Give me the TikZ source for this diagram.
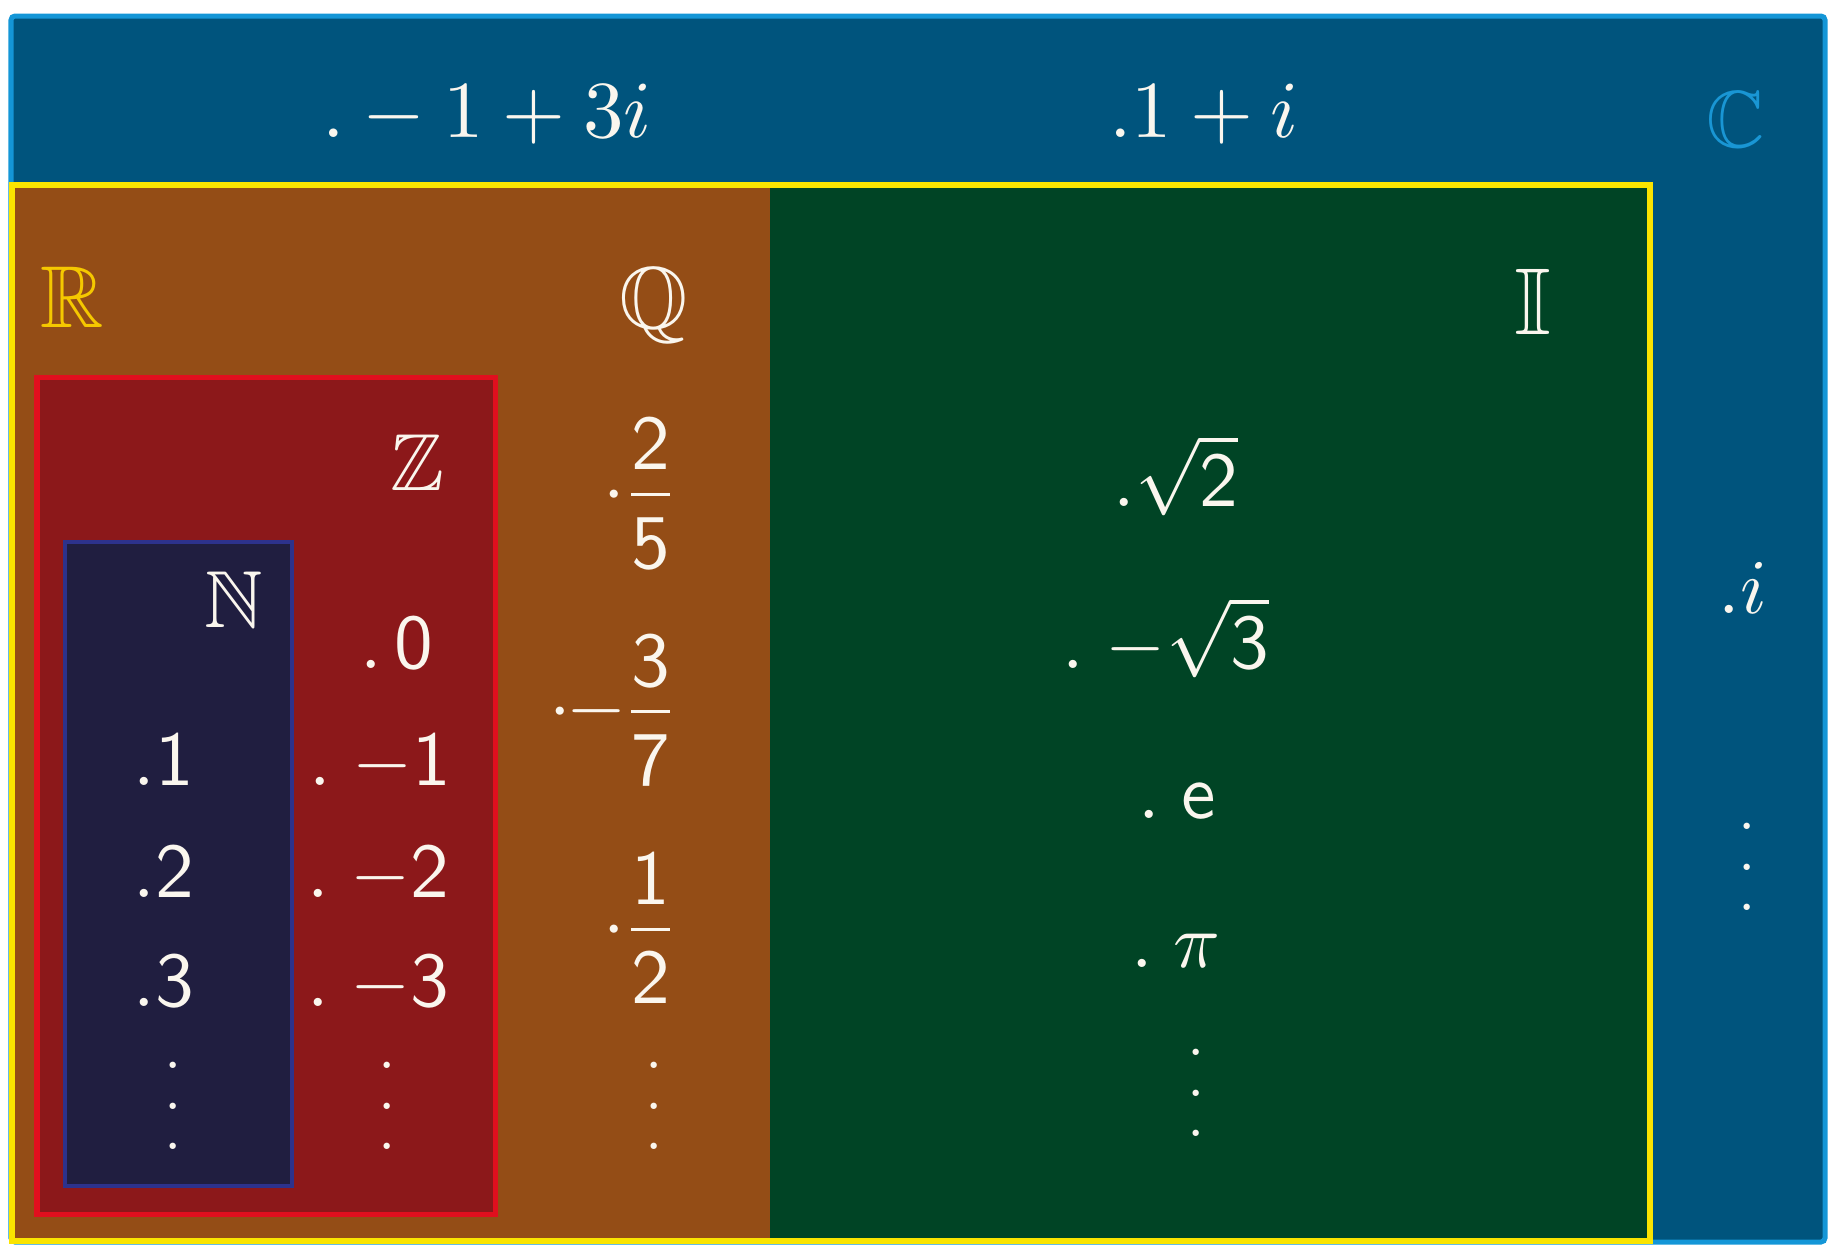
\documentclass[tikz,border=0pt]{standalone}
\usepackage{amsmath}
\usepackage{amssymb}
\DeclareFontFamily{U}{msb}{}
\DeclareFontShape{U}{msb}{m}{n}{<->msbm10}{}
\DeclareFontShape{OML}{cmm}{m}{it}{<->cmmi10}{\skewchar\font'177}
\DeclareFontShape{OMS}{cmsy}{m}{n}{<->cmsy10}{\skewchar\font'60}
\DeclareFontShape{OMX}{cmex}{m}{n}{<->cmex10}{}
\DeclareFontShape{OT1}{cmr}{m}{n}{<->cmr10}{}
\DeclareFontShape{OT1}{cmss}{m}{n}{<->cmss10}{}
\newcommand{\myfr}[2]{\genfrac{}{}{}{1}{\textstyle\mathsf{#1}\rule[-0.26em]{0pt}{0pt}}{\textstyle\mathsf{#2}\rule{0pt}{0.9em}}}
\newcommand{\myvdots}{\vbox{\baselineskip=11.6pt\lineskiplimit=0pt\lineskip=0pt\hbox{.}\hbox{.}\hbox{.}}}
\definecolor{cborder}{RGB}{20,150,215}
\definecolor{cfill}{RGB}{0,84,125}
\definecolor{ybord}{RGB}{250,228,0}
\definecolor{ofill}{RGB}{148,77,22}
\definecolor{gfill}{RGB}{0,68,37}
\definecolor{rbord}{RGB}{225,15,30}
\definecolor{rfill}{RGB}{140,24,26}
\definecolor{nbord}{RGB}{45,50,140}
\definecolor{nfill}{RGB}{32,30,64}
\definecolor{ctext}{RGB}{25,150,212}
\definecolor{rtext}{RGB}{245,200,0}
\definecolor{wtext}{RGB}{250,246,238}
\begin{document}
\begin{tikzpicture}[x=0.01cm,y=-0.01cm,
  lab/.style={text=wtext, inner sep=0pt, font=\fontsize{22}{26}\selectfont},
  toplab/.style={lab, font=\fontsize{23}{27}\selectfont},
  bbig/.style={inner sep=0pt, text=wtext, font=\fontsize{25}{30}\selectfont},
  bsmall/.style={inner sep=0pt, text=wtext, font=\fontsize{23}{28}\selectfont},
  vd/.style={lab}]
\useasboundingbox (0,0) rectangle (1838,1257);
% regions
\draw[fill=cfill, draw=cborder, line width=0.05cm, rounded corners=0.04cm] (11,16) rectangle (1825,1242);
\fill[ofill] (12,185) rectangle (770,1241);
\fill[gfill] (770,185) rectangle (1650,1241);
\draw[ybord, line width=0.06cm] (12,185) rectangle (1650,1241);
\draw[fill=rfill, draw=rbord, line width=0.05cm] (37,377) rectangle (495,1214);
\draw[fill=nfill, draw=nbord, line width=0.04cm] (65,542) rectangle (292,1186);
% C region
\node[toplab, anchor=base] (c1) at (487,137) {$.-1+3i$};
\node[toplab, anchor=base] (c2) at (1204,137) {$.1+i$};
\node[bsmall, text=ctext, anchor=base] (C) at (1736,147) {$\mathbb{C}$};
\node[lab, anchor=base] (c3) at (1743,613) {$.i$};
\node[vd] (cv) at (1747,867) {\myvdots};
% R, Q, I labels
\node[bbig, text=rtext, anchor=base] (R) at (72,327) {$\mathbb{R}$};
\node[bbig, anchor=base] (Q) at (654,328) {$\mathbb{Q}$};
\node[bbig, anchor=base, font=\fontsize{27}{32}\selectfont] (I) at (1533,334) {$\mathbb{I}$};
% irrationals
\node[lab, anchor=base] (i1) at (1176,506) {$.\sqrt{\mathsf{2}}$};
\node[lab, anchor=base] (i2) at (1166,668) {$.\;{-}\sqrt{\mathsf{3}}$};
\node[lab, anchor=base] (i3) at (1177,818) {$.\;\mathsf{e}$};
\node[lab, anchor=base] (i4) at (1176,967) {$.\;\pi$};
\node[vd] (iv) at (1196,1093) {\myvdots};
% rationals
\node[lab, anchor=east] (q1) at (675,494) {$\cdot\mkern0.5mu\myfr{2}{5}$};
\node[lab, anchor=east] (q2) at (675,711) {$\cdot\mkern-1mu{-}\mkern0mu\myfr{3}{7}$};
\node[lab, anchor=east] (q3) at (675,929) {$\cdot\mkern0.5mu\myfr{1}{2}$};
\node[vd] (qv) at (654,1106) {\myvdots};
% integers
\node[bsmall, anchor=base] (Z) at (417,490) {$\mathbb{Z}$};
\node[lab, anchor=base] (z0) at (397,668) {$.\,\mathsf{0}$};
\node[lab, anchor=base] (z1) at (380,785) {$.\;{-}\mathsf{1}$};
\node[lab, anchor=base] (z2) at (378,897) {$.\;{-}\mathsf{2}$};
\node[lab, anchor=base] (z3) at (378,1006) {$.\;{-}\mathsf{3}$};
\node[vd] (zv) at (387,1106) {\myvdots};
% naturals
\node[bsmall, anchor=base] (N) at (234,627) {$\mathbb{N}$};
\node[lab, anchor=base] (n1) at (164,785) {$.\mathsf{1}$};
\node[lab, anchor=base] (n2) at (164,897) {$.\mathsf{2}$};
\node[lab, anchor=base] (n3) at (164,1006) {$.\mathsf{3}$};
\node[vd] (nv) at (173,1106) {\myvdots};
\end{tikzpicture}
\end{document}
